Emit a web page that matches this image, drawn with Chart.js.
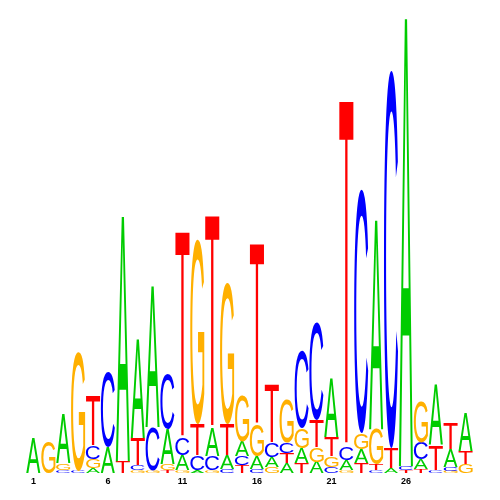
<!DOCTYPE html>
<html><head><meta charset="utf-8">
<script src="https://cdn.jsdelivr.net/npm/chart.js@4/dist/chart.umd.min.js"></script>
<style>html,body{margin:0;padding:0;background:#fff}</style>
</head><body>
<canvas id="c" width="500" height="500"></canvas>
<script>
// Sequence logo data (information content per letter, bits)
const positions = [1,2,3,4,5,6,7,8,9,10,11,12,13,14,15,16,17,18,19,20,21,22,23,24,25,26,27,28,29,30];
const tickLabels = ['1','6','11','16','21','26'];
const heightA = [0.152,0,0.209,0,0.022,0.113,1.065,0.430,0.613,0.152,0.065,0.013,0.122,0.061,0.065,0.057,0.043,0.043,0.065,0.048,0.257,0.043,0.061,0.909,0.022,1.948,0.043,0.261,0.078,0.165];
const heightC = [0,0,0.013,0.013,0.057,0.326,0,0.022,0.187,0.243,0.074,0.065,0.061,0.017,0.039,0.017,0.061,0.048,0.339,0.426,0.026,0.057,1.061,0.013,1.643,0.017,0.074,0.013,0.017,0];
const heightG = [0,0.135,0.030,0.513,0.039,0,0,0.013,0.013,0.026,0.013,0.804,0.013,0.613,0.200,0.135,0.026,0.191,0.087,0.065,0.048,0.013,0.070,0.152,0,0,0.178,0,0.009,0.039];
const heightT = [0,0,0,0,0.217,0,0.052,0.117,0,0.013,0.896,0.135,0.922,0.135,0.035,0.787,0.252,0.043,0.043,0.117,0.083,1.504,0.043,0.026,0.087,0.013,0.017,0.109,0.113,0.057];
const letters = ['A','C','G','T'];
const letterColors = {A:'#00cc00', C:'#0000ff', G:'#ffb000', T:'#ff0000'};

// Build stacked "rank" datasets: smallest letter at the bottom
const series = {A:heightA, C:heightC, G:heightG, T:heightT};
const rankData = [[],[],[],[]], rankLetters = [[],[],[],[]];
positions.forEach((p, i) => {
  const sorted = letters.map(l => ({l, h: series[l][i]})).sort((a,b) => a.h - b.h);
  sorted.forEach((s, r) => { rankData[r].push(s.h); rankLetters[r].push(s.l); });
});
const datasets = rankData.map((d, r) => ({
  label: 'rank' + r, data: d, letterOf: rankLetters[r],
  backgroundColor: 'rgba(0,0,0,0)', borderWidth: 0,
  barPercentage: 0.95, categoryPercentage: 1
}));

const FONT = '100px "Liberation Sans", Arial, sans-serif';
const metricsCache = {};
function metrics(ctx, ch) {
  if (!metricsCache[ch]) {
    ctx.font = FONT;
    const m = ctx.measureText(ch);
    metricsCache[ch] = {L: m.actualBoundingBoxLeft, R: m.actualBoundingBoxRight, A: m.actualBoundingBoxAscent, D: m.actualBoundingBoxDescent};
  }
  return metricsCache[ch];
}

const logoPlugin = {
  id: 'logo',
  afterDatasetsDraw(chart) {
    const ctx = chart.ctx;
    chart.data.datasets.forEach((ds, di) => {
      const meta = chart.getDatasetMeta(di);
      meta.data.forEach((el, i) => {
        const ch = ds.letterOf[i];
        const top = Math.min(el.y, el.base), bot = Math.max(el.y, el.base);
        const h = bot - top;
        if (!(h > 0.3)) return;
        const w = el.width;
        const m = metrics(ctx, ch);
        const iw = m.L + m.R, ih = m.A + m.D;
        ctx.save();
        ctx.translate(el.x - w / 2, top);
        ctx.scale(w / iw, h / ih);
        ctx.font = FONT;
        ctx.textAlign = 'left';
        ctx.textBaseline = 'alphabetic';
        ctx.fillStyle = letterColors[ch];
        ctx.fillText(ch, m.L, m.A);
        ctx.restore();
      });
    });
  }
};

new Chart(document.getElementById('c'), {
  type: 'bar',
  data: { labels: positions.map(String), datasets },
  options: {
    responsive: false, animation: false,
    layout: { padding: { left: 26, right: 27, top: 13, bottom: 10 } },
    plugins: { legend: { display: false }, tooltip: { enabled: false } },
    scales: {
      x: {
        stacked: true,
        grid: { display: false, drawTicks: false },
        border: { display: false },
        ticks: {
          autoSkip: false, maxRotation: 0, padding: 3, color: '#000',
          font: { size: 9, weight: 'bold', family: '"Liberation Sans", Arial, sans-serif' },
          callback: (v, i) => tickLabels.includes(String(positions[i])) ? String(positions[i]) : ''
        }
      },
      y: { stacked: true, display: false, min: 0, max: 2 }
    }
  },
  plugins: [logoPlugin]
});
</script>
</body></html>
